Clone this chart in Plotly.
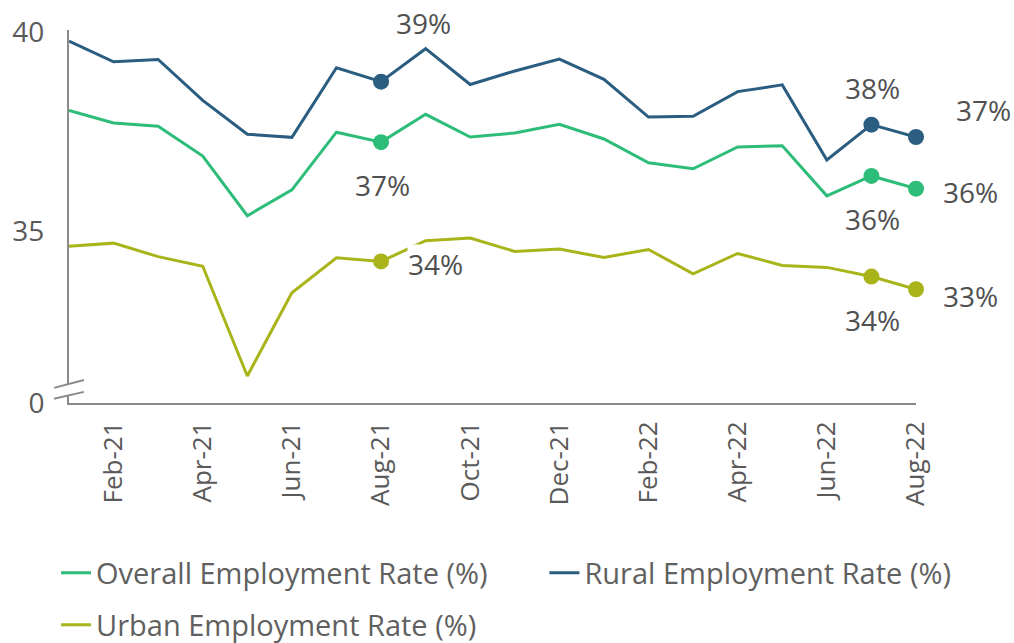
import plotly.graph_objects as go

months = ["Jan-21", "Feb-21", "Mar-21", "Apr-21", "May-21", "Jun-21", "Jul-21", "Aug-21",
          "Sep-21", "Oct-21", "Nov-21", "Dec-21", "Jan-22", "Feb-22", "Mar-22", "Apr-22",
          "May-22", "Jun-22", "Jul-22", "Aug-22"]

overall = [38.03, 37.71, 37.63, 36.88, 35.38, 36.03, 37.48, 37.23, 37.93, 37.36,
           37.46, 37.68, 37.31, 36.71, 36.56, 37.11, 37.14, 35.88, 36.38, 36.06]
rural = [39.77, 39.25, 39.31, 38.28, 37.43, 37.35, 39.10, 38.75, 39.58, 38.68,
         39.02, 39.32, 38.81, 37.86, 37.88, 38.50, 38.67, 36.78, 37.67, 37.36]
urban = [34.61, 34.69, 34.35, 34.11, 31.35, 33.44, 34.32, 34.23, 34.75, 34.82,
         34.48, 34.54, 34.33, 34.53, 33.92, 34.43, 34.13, 34.08, 33.85, 33.53]

marked_months = ["Aug-21", "Jul-22", "Aug-22"]
labels_overall = ["37%", "36%", "36%"]
labels_rural = ["39%", "38%", "37%"]
labels_urban = ["34%", "34%", "33%"]

y_ticktext = ["0", "35", "40"]
y_bottom = 30.67
y_top = 40.05

C_OVERALL = "#2ebd79"
C_RURAL = "#2a5d80"
C_URBAN = "#a9b41b"
FONT = "Open Sans"
TXT = "#505050"

fig = go.Figure()
series = [
    ("Overall Employment Rate (%)", overall, C_OVERALL, "legend"),
    ("Rural Employment Rate (%)", rural, C_RURAL, "legend2"),
    ("Urban Employment Rate (%)", urban, C_URBAN, "legend3"),
]
for name, vals, col, lg in series:
    fig.add_trace(go.Scatter(x=months, y=vals, mode="lines", name=name, legend=lg,
                             line=dict(color=col, width=3), cliponaxis=False))

for vals, col in [(overall, C_OVERALL), (rural, C_RURAL), (urban, C_URBAN)]:
    fig.add_trace(go.Scatter(
        x=marked_months, y=[vals[months.index(m)] for m in marked_months],
        mode="markers", marker=dict(color=col, size=16), showlegend=False,
        cliponaxis=False, hoverinfo="skip"))

# label offsets (xshift, yshift in pixels)
offs_rural = [(42, 59), (1, 37), (67, 27)]
offs_overall = [(1, -43), (1, -43), (54, -3)]
offs_urban = [(54, -3), (1, -43), (54, -7)]
for vals, labs, offs in [(rural, labels_rural, offs_rural),
                         (overall, labels_overall, offs_overall),
                         (urban, labels_urban, offs_urban)]:
    for m, lab, (dx, dy) in zip(marked_months, labs, offs):
        fig.add_annotation(x=m, y=vals[months.index(m)], text=lab, showarrow=False,
                           xshift=dx, yshift=dy, bgcolor="white", borderpad=0,
                           font=dict(family=FONT, size=28, color=TXT))

# axis break marks
fig.add_shape(type="path", xref="paper", yref="y",
              path="M -0.0177 31.05 L 0.0177 31.25 L 0.0177 30.95 L -0.0177 30.775 Z",
              fillcolor="white", line=dict(width=0), layer="above")
fig.add_shape(type="line", xref="paper", yref="y", x0=-0.0177, x1=0.0177,
              y0=31.05, y1=31.25, line=dict(color="#8a8a8a", width=2))
fig.add_shape(type="line", xref="paper", yref="y", x0=-0.0177, x1=0.0177,
              y0=30.775, y1=30.95, line=dict(color="#8a8a8a", width=2))

leg_font = dict(family=FONT, size=29, color="#606060")
def leg(x, y):
    return dict(orientation="h", x=x, y=y, xref="paper", yref="container",
                xanchor="left", yanchor="middle", font=leg_font,
                bgcolor="rgba(0,0,0,0)", borderwidth=0)

fig.update_layout(
    width=1014, height=643,
    margin=dict(l=68, r=98, t=28, b=240),
    paper_bgcolor="white", plot_bgcolor="white",
    font=dict(family=FONT, color=TXT),
    showlegend=True,
    legend=leg(-0.0153, 1 - 573 / 643),
    legend2=leg(0.5613, 1 - 573 / 643),
    legend3=leg(-0.0153, 1 - 625 / 643),
    xaxis=dict(type="category", range=[0, 19], showgrid=False, zeroline=False,
               showline=True, linecolor="#8a8a8a", linewidth=2,
               tickvals=months[1::2], tickangle=-90, ticks="",
               ticklabelstandoff=6,
               tickfont=dict(family=FONT, size=26, color="#5a5a5a")),
    yaxis=dict(range=[y_bottom, y_top], showgrid=False, zeroline=False,
               showline=True, linecolor="#8a8a8a", linewidth=2,
               tickvals=[y_bottom, 35, 40], ticktext=y_ticktext, ticks="",
               ticklabelstandoff=17,
               tickfont=dict(family=FONT, size=28, color="#5a5a5a")),
)

fig.write_html("out.html")
